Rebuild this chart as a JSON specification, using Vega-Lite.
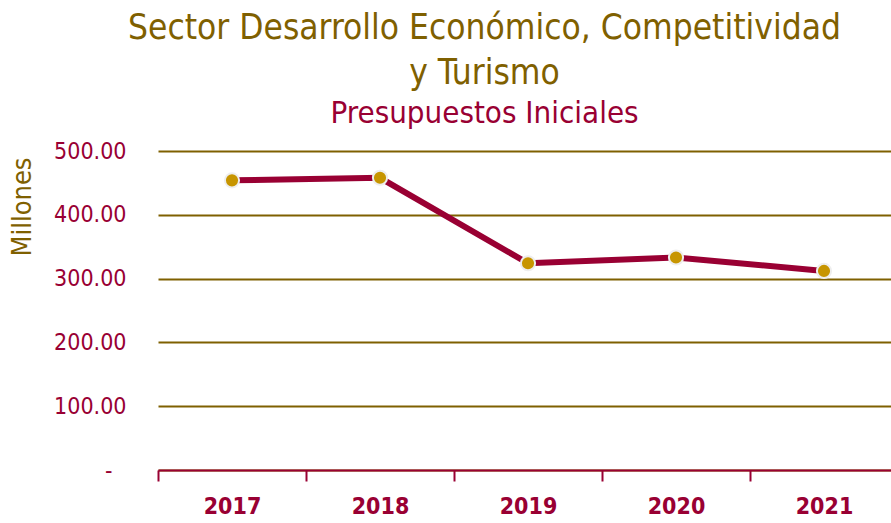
{
  "$schema": "https://vega.github.io/schema/vega-lite/v6.json",
  "autosize": {"type": "none"},
  "width": 733,
  "height": 319,
  "padding": {"left": 158, "top": 151, "right": 0, "bottom": 53},
  "background": "white",
  "title": {
    "text": ["Sector Desarrollo Económico, Competitividad", "y Turismo"],
    "subtitle": "Presupuestos Iniciales",
    "anchor": "middle",
    "frame": "group",
    "dx": -40,
    "offset": 11,
    "font": "DejaVu Sans Condensed",
    "fontSize": 35,
    "fontWeight": "normal",
    "lineHeight": 45,
    "color": "#7F6000",
    "subtitleFont": "DejaVu Sans Condensed",
    "subtitleFontSize": 31,
    "subtitleColor": "#990033",
    "subtitlePadding": 8
  },
  "data": {
    "values": [
      {"year": "2017", "value": 454},
      {"year": "2018", "value": 458},
      {"year": "2019", "value": 324},
      {"year": "2020", "value": 333},
      {"year": "2021", "value": 312}
    ]
  },
  "config": {"view": {"stroke": null}},
  "encoding": {
    "x": {
      "field": "year",
      "type": "ordinal",
      "scale": {"type": "band", "range": [0, 740], "paddingInner": 0, "paddingOuter": 0},
      "axis": {
        "title": null,
        "labelAngle": 0,
        "tickBand": "extent",
        "domainColor": "#990033",
        "domainWidth": 2,
        "tickColor": "#990033",
        "tickWidth": 2,
        "tickSize": 11,
        "labelColor": "#990033",
        "labelFont": "DejaVu Sans Condensed",
        "labelFontSize": 23,
        "labelFontWeight": "bold",
        "labelPadding": 14,
        "grid": false
      }
    },
    "y": {
      "field": "value",
      "type": "quantitative",
      "scale": {"domain": [0, 500], "nice": false},
      "axis": {
        "values": [0, 100, 200, 300, 400, 500],
        "labelExpr": "datum.value == 0 ? '-' : format(datum.value, '.2f')",
        "domain": false,
        "ticks": false,
        "grid": true,
        "gridColor": "#7F6000",
        "gridWidth": 2,
        "gridOpacity": 1,
        "labelColor": "#990033",
        "labelFont": "DejaVu Sans Condensed",
        "labelFontSize": 23,
        "labelPadding": {"condition": {"test": "datum.value == 0", "value": 46}, "value": 32},
        "title": "Millones",
        "titleColor": "#7F6000",
        "titleFont": "DejaVu Sans Condensed",
        "titleFontSize": 27,
        "titleFontWeight": "normal",
        "titleAnchor": "end",
        "titleX": -122,
        "titleY": 6
      }
    }
  },
  "layer": [
    {"mark": {"type": "line", "color": "#990033", "strokeWidth": 6}},
    {"mark": {"type": "point", "filled": true, "fill": "#C79500", "stroke": "#EEEEEE", "strokeWidth": 2, "size": 200, "opacity": 1}}
  ]
}
